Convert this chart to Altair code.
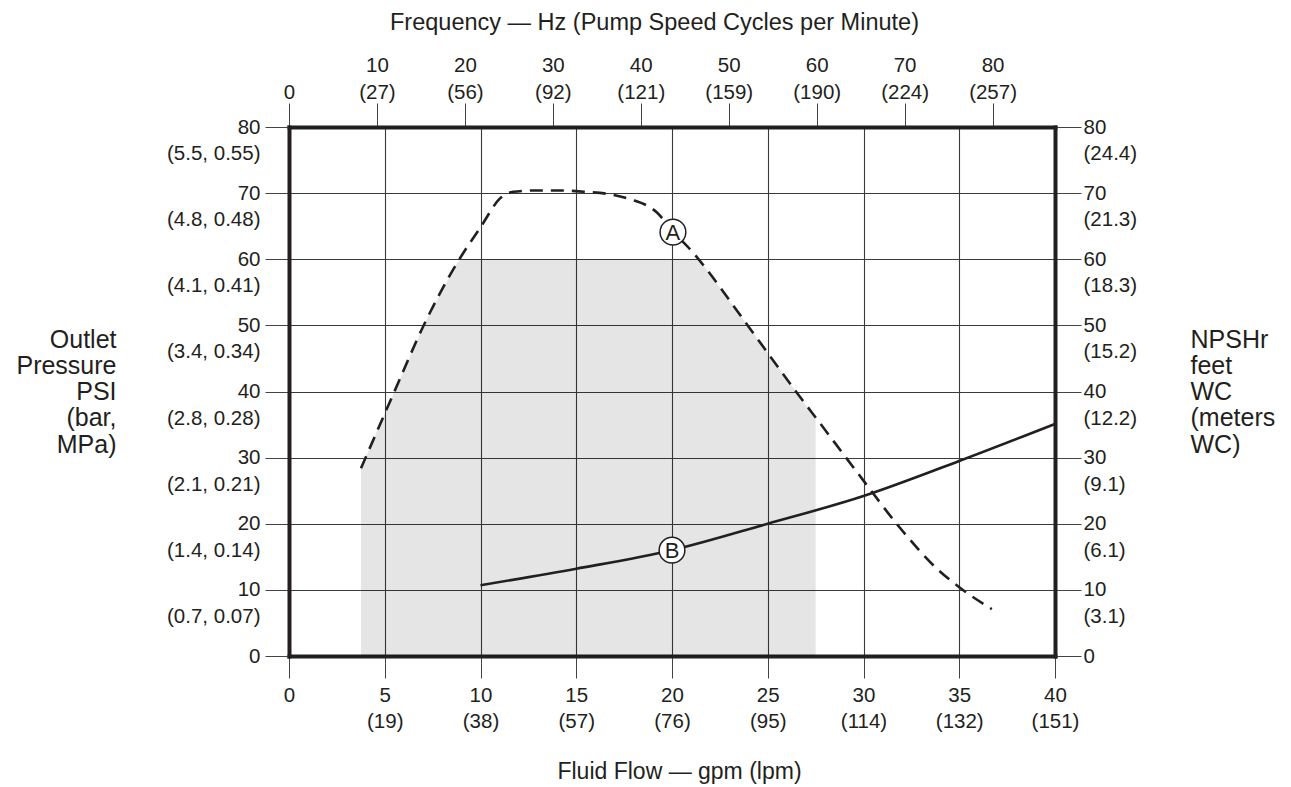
import json
import altair as alt
import pandas as pd

# ---------------- data ----------------
# Curve A (dashed)
a_gpm = [3.76, 5.43, 7.1, 8.77, 9.97, 11.1, 11.7, 12.8, 14.2, 15.4, 16.6, 17.8,
         19.2, 20.05, 21.1, 21.5, 24.0, 26.5, 27.6, 29.9, 31.9, 33.8, 35.0, 36.7]
a_psi = [28.4, 39.5, 50.4, 59.4, 64.7, 69.4, 70.2, 70.4, 70.4, 70.2, 69.9, 69.1,
         67.1, 64.2, 61.0, 59.6, 49.8, 39.9, 35.7, 26.9, 19.4, 13.3, 10.4, 7.1]

# Curve B (solid)
b_gpm = [10, 15, 20, 25, 30, 35, 40]
b_psi = [10.7, 13.2, 16.0, 20.0, 24.2, 29.5, 35.1]

# Shaded operating region
shade_gpm = [3.76, 5.43, 7.1, 8.77, 8.95, 21.4, 24.0, 26.5, 27.5]
shade_top = [28.4, 39.5, 50.4, 59.4, 60.0, 60.0, 49.8, 39.9, 35.9]

# Curve labels
label_text = ["A", "B"]
label_gpm = [20.05, 20.0]
label_psi = [64.1, 16.0]

# Axis ticks and secondary labels
gpm_ticks = [0, 5, 10, 15, 20, 25, 30, 35, 40]
lpm_labels = ["(19)", "(38)", "(57)", "(76)", "(95)", "(114)", "(132)", "(151)"]
psi_ticks = [0, 10, 20, 30, 40, 50, 60, 70, 80]
bar_mpa_labels = ["(0.7, 0.07)", "(1.4, 0.14)", "(2.1, 0.21)", "(2.8, 0.28)",
                  "(3.4, 0.34)", "(4.1, 0.41)", "(4.8, 0.48)", "(5.5, 0.55)"]
npshr_m_labels = ["(3.1)", "(6.1)", "(9.1)", "(12.2)", "(15.2)", "(18.3)",
                  "(21.3)", "(24.4)"]
hz_ticks = [0, 10, 20, 30, 40, 50, 60, 70, 80]
cpm_labels = ["(27)", "(56)", "(92)", "(121)", "(159)", "(190)", "(224)", "(257)"]
hz_max = 87.1  # Hz at 40 gpm (top scale)

# ---------------- styling ----------------
INK = "#231f20"
GRID = "#3a3a3a"
FONT = "Liberation Sans"
LFS = 20.5
LH = 26.5

df_a = pd.DataFrame({"gpm": a_gpm, "psi": a_psi})
df_b = pd.DataFrame({"gpm": b_gpm, "psi": b_psi})
df_s = pd.DataFrame({"gpm": shade_gpm, "psi": shade_top})
df_l = pd.DataFrame({"gpm": label_gpm, "psi": label_psi, "lab": label_text})
df_aux = pd.DataFrame({"hz": hz_ticks, "psi": psi_ticks})

xs = alt.Scale(domain=[0, 40], nice=False, zero=True)
ys = alt.Scale(domain=[0, 80], nice=False, zero=True)

common_axis = dict(
    domainWidth=4, domainColor=INK, domainCap="square",
    tickColor="#444444", tickWidth=1,
    labelFont=FONT, labelFontSize=LFS, labelColor=INK,
    labelOverlap=False, labelFlush=False, labelBound=False,
    labelLineHeight=LH,
    titleFont=FONT, titleColor=INK, titleFontWeight="normal",
)

x_axis = alt.Axis(
    orient="bottom", values=gpm_ticks,
    labelExpr=f"datum.value == 0 ? '0' : [datum.label, {json.dumps(lpm_labels)}[round(datum.value/5) - 1]]",
    tickSize=22, labelPadding=7, labelBaseline="top", labelAlign="center",
    grid=True, gridColor=GRID, gridWidth=1.1,
    title="Fluid Flow — gpm (lpm)", titleFontSize=23,
    titleX=390, titleY=122, titleAlign="center", titleBaseline="alphabetic",
    titleAnchor="start", titlePadding=0,
    **common_axis,
)

y_axis = alt.Axis(
    orient="left", values=psi_ticks,
    labelExpr=f"datum.value == 0 ? '0' : [datum.label, {json.dumps(bar_mpa_labels)}[round(datum.value/10) - 1]]",
    tickSize=24, labelPadding=5, labelAlign="right", labelBaseline="middle",
    grid=True, gridColor=GRID, gridWidth=1.1,
    title=["Outlet", "Pressure", "PSI", "(bar,", "MPa)"], titleFontSize=25,
    titleAngle=0, titleAlign="right", titleBaseline="alphabetic",
    titleX=-173, titleY=220, titleLineHeight=26.3,
    **common_axis,
)

top_axis = alt.Axis(
    orient="top", values=hz_ticks,
    labelExpr=f"datum.value == 0 ? ['', '0'] : [datum.label, {json.dumps(cpm_labels)}[round(datum.value/10) - 1]]",
    tickSize=24, labelPadding=1 + LH, labelBaseline="bottom", labelAlign="center",
    grid=False,
    title="Frequency — Hz (Pump Speed Cycles per Minute)", titleFontSize=23.5,
    titleX=365, titleY=-97.5, titleAlign="center", titleBaseline="alphabetic",
    titleAnchor="start",
    **common_axis,
)

right_axis = alt.Axis(
    orient="right", values=psi_ticks,
    labelExpr=f"datum.value == 0 ? '0' : [datum.label, {json.dumps(npshr_m_labels)}[round(datum.value/10) - 1]]",
    tickSize=26, labelPadding=2, labelAlign="left", labelBaseline="middle",
    grid=False,
    title=["NPSHr", "feet", "WC", "(meters", "WC)"], titleFontSize=25,
    titleAngle=0, titleAlign="left", titleBaseline="alphabetic",
    titleX=135, titleY=220, titleLineHeight=26.3,
    **common_axis,
)

shade = alt.Chart(df_s).mark_area(color="#000000", opacity=0.1).encode(
    x=alt.X("gpm:Q", scale=xs, axis=x_axis),
    y=alt.Y("psi:Q", scale=ys, axis=y_axis),
)

line_a = alt.Chart(df_a).mark_line(
    color=INK, strokeWidth=2.6, strokeDash=[13, 8], interpolate="monotone"
).encode(x=alt.X("gpm:Q", scale=xs), y=alt.Y("psi:Q", scale=ys))

line_b = alt.Chart(df_b).mark_line(
    color=INK, strokeWidth=2.6, interpolate="monotone"
).encode(x=alt.X("gpm:Q", scale=xs), y=alt.Y("psi:Q", scale=ys))

circles = alt.Chart(df_l).mark_point(
    shape="circle", size=660, filled=True, fill="white", fillOpacity=1,
    stroke=INK, strokeWidth=1.5, strokeOpacity=1, opacity=1,
).encode(x=alt.X("gpm:Q", scale=xs), y=alt.Y("psi:Q", scale=ys))

labels = alt.Chart(df_l).mark_text(
    font=FONT, fontSize=22, color=INK, align="center", baseline="middle", dy=1
).encode(x=alt.X("gpm:Q", scale=xs), y=alt.Y("psi:Q", scale=ys), text="lab:N")

main = alt.layer(shade, line_a, line_b, circles, labels)

aux = alt.Chart(df_aux).mark_point(opacity=0).encode(
    x=alt.X("hz:Q", scale=alt.Scale(domain=[0, hz_max], nice=False, zero=True), axis=top_axis),
    y=alt.Y("psi:Q", scale=alt.Scale(domain=[0, 80], nice=False, zero=True), axis=right_axis),
)

chart = alt.layer(main, aux).resolve_scale(x="independent", y="independent").properties(
    width=766, height=529,
    autosize=alt.AutoSizeParams(type="none"),
    padding={"left": 281, "top": 119, "right": 220, "bottom": 128},
    background="white",
).configure_view(stroke=None)

chart.save("out.html", embed_options={"renderer": "svg", "actions": False})
